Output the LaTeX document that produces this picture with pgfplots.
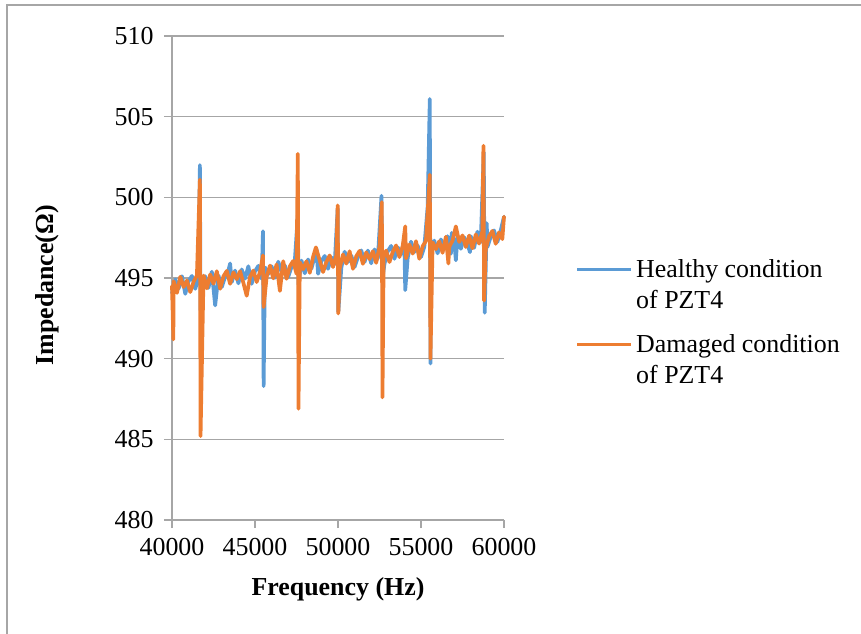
\documentclass[border=0pt]{standalone}
\usepackage{fontspec}
\setmainfont{Liberation Serif}
\usepackage{pgfplots}
\pgfplotsset{compat=1.18}
\definecolor{hblue}{HTML}{5B9BD5}
\definecolor{dorange}{HTML}{ED7D31}
\definecolor{gridgray}{HTML}{A6A6A6}
\begin{document}
\begin{tikzpicture}
\path[use as bounding box] (0,0) rectangle (861bp,-634bp);
\draw[gridgray, line width=1.3bp] (7bp,-634bp) -- (7bp,-5bp) -- (861bp,-5bp);
\begin{axis}[
  at={(172bp,-520bp)}, anchor=south west,
  scale only axis, width=332bp, height=484bp,
  xmin=40000, xmax=60000, ymin=480, ymax=510,
  xtick={40000,45000,50000,55000,60000},
  ytick={480,485,490,495,500,505,510},
  scaled x ticks=false, scaled y ticks=false,
  axis lines*=left,
  axis line style={gridgray, line width=1.3bp},
  tick style={gridgray, line width=1.3bp},
  tick align=outside, major tick length=8bp,
  ymajorgrids, grid style={gridgray, line width=1.3bp},
  /pgf/number format/assume math mode=true,
  /pgf/number format/1000 sep={},
  tick label style={font=\fontsize{26}{31}\selectfont, text=black},
  yticklabel style={xshift=-7bp},
  xticklabel style={yshift=-7bp},
  every axis y label/.style={at={(axis description cs:-0.3765,0.485)}, rotate=90, anchor=center},
  every axis x label/.style={at={(axis description cs:0.5,0)}, anchor=base, yshift=-75bp},
  ylabel={\fontsize{26}{31}\selectfont\bfseries Impedance(Ω)},
  xlabel={\fontsize{26}{31}\selectfont\bfseries Frequency (Hz)},
  clip=false,
]
\addplot[hblue, line width=3.7bp, line join=round, line cap=round] coordinates {
(40000,494.05) (40200,494.91) (40400,494.34) (40600,495.11) (40800,494.02)
(41000,494.80) (41200,495.13) (41400,494.33) (41600,495.04) (41680,502.0)
(41720,493.0) (41800,494.62)
(42000,495.11) (42200,494.39) (42400,495.39) (42600,493.3) (42800,495.15)
(43000,494.44) (43200,495.07) (43400,495.47) (43500,495.9) (43600,494.75) (43800,495.46)
(44000,494.67) (44200,495.53) (44400,494.96) (44600,495.73) (44800,494.64)
(45000,495.42) (45200,495.75) (45400,494.95) (45480,497.9) (45520,488.3) (45600,495.66) (45800,495.24)
(46000,495.73) (46200,495.01) (46400,496.01) (46600,495.37) (46800,495.77)
(47000,495.06) (47200,495.69) (47400,496.09) (47580,498.9) (47620,494.6) (47800,496.08)
(48000,495.29) (48200,496.15) (48400,495.58) (48600,496.35) (48700,496.8) (48800,495.26)
(49000,496.04) (49200,496.37) (49400,495.57) (49600,496.28) (49800,495.86)
(49980,499.3) (50020,492.9)
(50200,495.63) (50400,496.63) (50600,495.99) (50800,496.39)
(51000,495.68) (51200,496.31) (51400,496.71) (51600,495.99) (51800,496.70)
(52000,495.91) (52200,496.77) (52400,496.20) (52620,500.1) (52660,494.8) (52800,495.88)
(53000,496.66) (53200,496.99) (53400,496.19) (53600,496.90) (53800,496.48)
(54000,496.97) (54050,494.25) (54200,496.25) (54400,497.25) (54600,496.61) (54800,497.01)
(55000,496.30) (55200,496.93) (55400,499.4) (55530,506.1) (55570,489.7) (55600,496.61) (55800,497.32)
(56000,496.53) (56200,497.39) (56400,496.82) (56600,497.59) (56800,496.50) (56850,497.8)
(57000,497.28) (57100,496.1) (57200,497.61) (57400,496.81) (57600,497.52) (57800,497.10)
(57950,496.6) (58000,497.59) (58200,496.87) (58400,497.87) (58600,497.23) (58780,502.8)
(58840,492.85) (58960,498.4) (59000,496.92) (59200,497.55) (59400,497.95) (59600,497.23)
(59800,497.94) (60000,498.8)
};
\addplot[dorange, line width=3.7bp, line join=round, line cap=round] coordinates {
(40000,494.5) (40080,491.2) (40100,494.80) (40300,494.08) (40500,495.08) (40700,494.44)
(40900,494.84) (41100,494.13) (41300,494.76) (41500,495.16) (41680,501.1) (41720,485.2)
(41900,495.15)
(42100,494.36) (42300,495.22) (42500,494.65) (42700,495.42) (42900,494.33)
(43100,495.11) (43300,495.44) (43500,494.64) (43700,495.35) (43900,494.93)
(44100,495.42) (44300,494.70) (44500,493.9) (44700,495.06) (44900,495.46)
(45100,494.75) (45300,495.38) (45480,496.4) (45520,493.2) (45700,495.06) (45900,495.77)
(46100,494.98) (46300,495.84) (46500,494.2) (46700,496.04) (46900,494.95)
(47100,495.73) (47300,496.06) (47500,495.26) (47580,502.7) (47620,486.9) (47700,495.97) (47900,495.55)
(48100,496.04) (48300,495.32) (48500,496.32) (48670,496.9) (48900,496.08)
(49100,495.37) (49300,496.00) (49500,496.40) (49700,495.68) (49900,496.39)
(49980,499.5) (50020,492.8)
(50100,495.60) (50300,496.46) (50500,495.89) (50700,496.66) (50900,495.57)
(51100,496.35) (51300,496.68) (51500,495.88) (51700,496.59) (51900,496.17)
(52100,496.66) (52300,495.94) (52500,496.94) (52640,499.7) (52680,487.6) (52750,496.30)
(52900,496.70) (53100,495.99) (53300,496.62) (53500,497.02) (53700,496.30) (53900,497.01)
(54050,498.2) (54100,496.22) (54300,497.08) (54500,496.51) (54700,497.28) (54900,496.19)
(55100,496.97) (55300,497.30) (55530,501.4) (55570,490.0) (55700,497.21) (55900,496.79)
(56100,497.28) (56300,496.56) (56500,497.56) (56650,495.9) (56700,496.92) (56900,497.32)
(57100,498.2) (57300,497.24) (57500,497.64) (57700,496.92) (57900,497.63)
(58100,496.84) (58300,497.70) (58500,497.13) (58700,497.90) (58760,503.2) (58800,493.6)
(58900,496.81) (59100,497.59) (59300,497.92) (59500,497.12) (59700,497.83) (59900,497.41)
(60000,498.8)
};
\end{axis}
\draw[hblue, line width=3bp] (577bp,-269bp) -- (631bp,-269bp);
\draw[dorange, line width=3bp] (577bp,-344bp) -- (631bp,-344bp);
\node[anchor=base west, inner sep=0pt, align=left, font=\fontsize{26}{31}\selectfont] at (636bp,-308bp) {Healthy condition\\of PZT4};
\node[anchor=base west, inner sep=0pt, align=left, font=\fontsize{26}{31}\selectfont] at (636bp,-383bp) {Damaged condition\\of PZT4};
\end{tikzpicture}
\end{document}
